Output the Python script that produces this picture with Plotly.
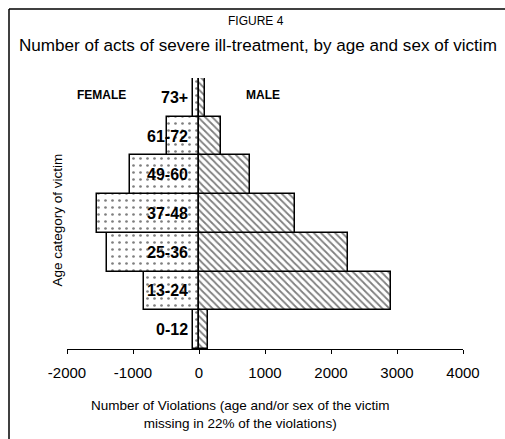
import plotly.graph_objects as go

categories = ["0-12", "13-24", "25-36", "37-48", "49-60", "61-72", "73+"]
female = [-85, -830, -1390, -1550, -1050, -480, -85]
male = [130, 2910, 2260, 1450, 780, 340, 90]
x_ticks = [-2000, -1000, 0, 1000, 2000, 3000, 4000]

FONT = "Liberation Sans, Arial, sans-serif"

W, H = 505, 439
L, R, T, B = 67, 42, 78, 90
PW, PH = W - L - R, H - T - B


def px(xp):  # page x -> paper
    return (xp - L) / PW


def py(yp):  # page y -> paper
    return (H - B - yp) / PH


fig = go.Figure()
fig.add_trace(go.Bar(
    y=categories, x=female, orientation="h", name="FEMALE",
    marker=dict(color="white", line=dict(color="black", width=1.5),
                pattern=dict(shape=".", fgcolor="black", bgcolor="white", size=7, solidity=0.12)),
))
fig.add_trace(go.Bar(
    y=categories, x=male, orientation="h", name="MALE",
    marker=dict(color="white", line=dict(color="black", width=1.5),
                pattern=dict(shape="\\", fgcolor="black", bgcolor="white", size=5, solidity=0.35)),
))

annotations = []
for c in categories:
    annotations.append(dict(x=0, y=c, xref="x", yref="y", text=c, showarrow=False,
                            xanchor="right", xshift=-9,
                            font=dict(family=FONT, size=16, color="black", weight="bold")))
annotations += [
    dict(x=-1470, y=py(86), xref="x", yref="paper", text="FEMALE", showarrow=False,
         font=dict(family=FONT, size=12, color="black", weight="bold")),
    dict(x=970, y=py(86), xref="x", yref="paper", text="MALE", showarrow=False,
         font=dict(family=FONT, size=12, color="black", weight="bold")),
    dict(x=px(256), y=py(21), xref="paper", yref="paper", yanchor="middle",
         text="FIGURE 4", showarrow=False, font=dict(family=FONT, size=12, color="black")),
    dict(x=px(258), y=py(45), xref="paper", yref="paper", yanchor="middle",
         text="Number of acts of severe ill-treatment, by age and sex of victim",
         showarrow=False, font=dict(family=FONT, size=17.1, color="black")),
    dict(x=px(47), y=py(220), xref="paper", yref="paper", text="Age category of victim",
         textangle=-90, showarrow=False, font=dict(family=FONT, size=13.5, color="black")),
    dict(x=px(240), y=py(396), xref="paper", yref="paper", yanchor="top",
         text="Number of Violations (age and/or sex of the victim<br>missing in 22% of the violations)",
         showarrow=False, font=dict(family=FONT, size=13.5, color="black")),
]

fig.update_layout(
    width=W, height=H,
    margin=dict(l=L, r=R, t=T, b=B),
    paper_bgcolor="white", plot_bgcolor="white",
    barmode="relative", bargap=0,
    showlegend=False,
    annotations=annotations,
    xaxis=dict(range=[-2000, 4000], tickvals=x_ticks, ticktext=[str(v) for v in x_ticks],
               showgrid=False, zeroline=False, showline=True, linecolor="black", linewidth=1,
               ticks="outside", ticklen=4, tickcolor="black", ticklabelstandoff=6,
               tickfont=dict(family=FONT, size=15, color="black")),
    yaxis=dict(range=[-0.5, 6.5], showticklabels=False, showgrid=False, zeroline=False,
               showline=False, ticks=""),
    shapes=[
        dict(type="line", xref="paper", yref="paper", x0=px(9), x1=1.5, y0=py(9), y1=py(9),
             line=dict(color="black", width=1.5), layer="below"),
        dict(type="line", xref="paper", yref="paper", x0=px(9), x1=px(9), y0=py(9), y1=-1,
             line=dict(color="black", width=1.5), layer="below"),
    ],
)

fig.write_html(
    "out.html",
    config={"displayModeBar": False},
    post_script="document.body.style.margin='0px';document.body.style.overflow='hidden';",
)
